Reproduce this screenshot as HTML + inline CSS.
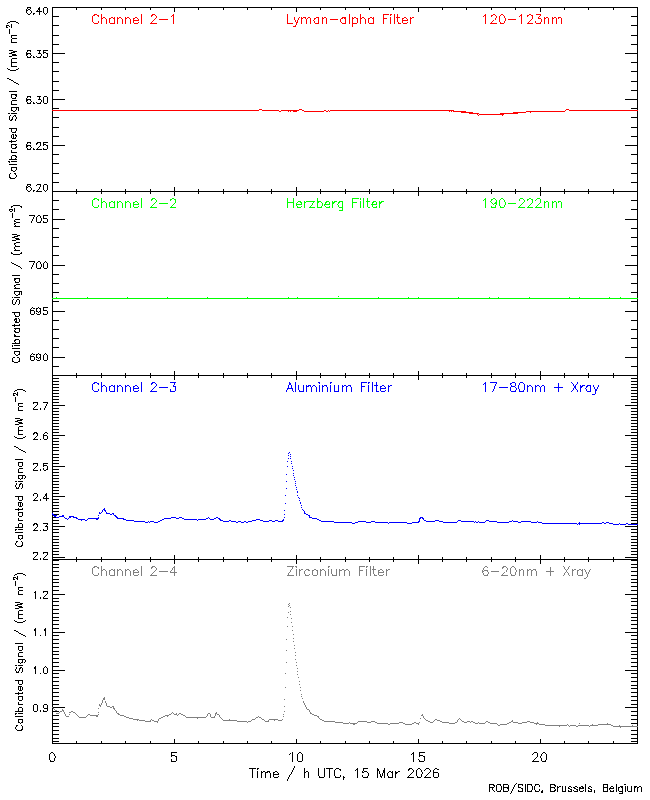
<!DOCTYPE html>
<html lang="en"><head><meta charset="utf-8"><title>LYRA calibrated signal - 15 Mar 2026</title><style>html,body{margin:0;padding:0;background:#fff;}body{width:650px;height:800px;overflow:hidden;font-family:"Liberation Sans",sans-serif;}svg{display:block;}</style></head><body>
<svg width="650" height="800" viewBox="0 0 650 800" role="img" shape-rendering="crispEdges"><title>LYRA calibrated signal, 15 Mar 2026</title><desc>LYRA calibrated signal, four stacked panels versus Time / h UTC, 15 Mar 2026 (0 to 24 h). Channel 2-1 Lyman-alpha Filter 120-123nm (6.20-6.40 mW m-2); Channel 2-2 Herzberg Filter 190-222nm (688-708 mW m-2); Channel 2-3 Aluminium Filter 17-80nm + Xray (2.2-2.8 mW m-2); Channel 2-4 Zirconium Filter 6-20nm + Xray (0.8-1.3 mW m-2). Y axis: Calibrated Signal / (mW m-2). ROB/SIDC, Brussels, Belgium</desc><rect width="650" height="800" fill="#fff"/><g transform="translate(0,0.5)" fill="none" stroke-width="1" stroke-linecap="butt"><path d="M27 7h4M44 7h3M53 7h23M77 7h24M102 7h23M126 7h24M151 7h23M175 7h23M199 7h24M224 7h23M248 7h23M272 7h24M297 7h23M321 7h24M346 7h23M370 7h23M394 7h24M419 7h23M443 7h23M467 7h24M492 7h23M516 7h24M541 7h23M565 7h23M589 7h24M614 7h23M27 8h1M30 8h1M38 8h1M28 9h2M38 9h1M27 10h1M30 10h1M37 10h1M31 11h1M36 11h3M40 11h2M31 12h1M27 13h1M30 13h1M33 13h2M44 13h1M46 13h1M28 14h2M33 14h1M45 14h1M53 16h6M631 16h6M10 21h6M8 22h2M16 22h2M7 23h1M18 23h1M7 25h2M53 25h6M631 25h6M9 26h1M7 27h1M12 35h5M53 35h6M631 35h6M12 38h5M12 42h5M53 44h6M631 44h6M9 50h4M27 50h4M37 50h2M40 50h1M44 50h4M13 51h4M27 51h1M30 51h1M11 52h4M44 52h2M9 53h3M27 53h4M38 53h1M40 53h1M46 53h1M53 53h12M625 53h12M12 54h4M27 54h1M30 54h1M41 54h1M12 55h5M31 55h1M41 55h1M9 56h3M27 56h1M30 56h1M33 56h1M36 56h1M40 56h1M43 56h1M27 57h4M33 57h2M37 57h4M43 57h4M12 58h5M12 62h5M53 62h6M631 62h6M12 66h5M7 68h1M18 68h1M8 69h2M16 69h2M10 70h6M53 71h6M631 71h6M7 78h2M9 79h2M11 80h2M13 81h1M53 81h6M631 81h6M14 82h2M16 83h2M18 84h1M53 90h6M631 90h6M9 91h8M12 94h4M15 95h1M27 96h4M37 96h2M40 96h1M44 96h3M15 97h1M27 97h1M30 97h1M12 98h4M27 99h4M38 99h1M40 99h1M53 99h12M625 99h12M12 100h5M27 100h1M30 100h1M41 100h1M31 101h1M41 101h1M27 102h1M30 102h1M33 102h1M36 102h1M40 102h1M27 103h4M33 103h2M37 103h4M44 103h3M12 104h5M12 107h4M17 107h1M53 108h6M631 108h6M12 110h1M15 110h1M13 111h2M8 113h2M11 113h6M10 115h1M14 115h2M13 116h1M15 116h1M16 117h1M53 117h6M631 117h6M16 118h1M11 119h1M15 119h1M10 120h2M15 120h1M53 127h6M631 127h6M9 128h2M12 128h4M15 131h1M12 132h4M12 134h1M15 134h1M15 135h2M16 136h1M53 136h6M631 136h6M15 137h1M12 138h1M14 138h2M16 140h1M9 141h2M12 141h4M27 142h4M37 142h3M44 142h4M27 143h1M30 143h1M36 143h2M12 144h5M36 144h1M44 144h2M15 145h1M27 145h4M46 145h1M53 145h12M625 145h12M16 146h1M27 146h1M30 146h1M39 146h1M15 147h2M31 147h1M38 147h1M12 148h4M27 148h1M30 148h1M33 148h1M37 148h1M43 148h1M27 149h4M33 149h2M36 149h6M43 149h4M12 152h5M53 154h6M631 154h6M12 155h4M15 156h2M16 157h1M15 158h1M9 159h2M12 159h5M8 161h2M11 161h6M9 162h1M53 163h6M631 163h6M9 164h8M12 167h4M12 170h1M15 170h1M13 171h2M10 173h1M14 173h2M53 173h6M631 173h6M15 174h1M16 175h1M16 176h1M10 177h1M15 177h1M10 178h5M53 182h6M631 182h6M27 184h4M37 184h3M44 184h3M27 185h1M30 185h1M36 185h1M28 186h2M27 187h1M30 187h1M39 187h1M31 188h1M39 188h1M31 189h1M38 189h1M27 190h1M30 190h1M33 190h2M37 190h1M44 190h1M46 190h1M28 191h2M33 191h1M36 191h6M45 191h1M53 191h23M77 191h24M102 191h23M126 191h24M151 191h23M175 191h23M199 191h24M224 191h23M248 191h23M272 191h24M297 191h23M321 191h24M346 191h23M370 191h23M394 191h24M419 191h23M443 191h23M467 191h24M492 191h23M516 191h24M541 191h23M565 191h23M589 191h24M614 191h23M53 200h6M631 200h6M13 205h7M11 206h2M20 206h2M11 207h1M21 207h1M9 209h4M53 209h6M631 209h6M9 210h1M12 210h1M10 211h2M29 215h6M38 215h2M44 215h4M34 216h1M37 216h1M40 216h1M33 217h1M40 217h1M33 218h1M44 218h3M15 219h5M32 219h1M53 219h12M625 219h12M14 220h1M32 220h1M14 221h2M31 221h1M40 221h1M43 221h1M16 222h4M31 222h1M37 222h4M43 222h4M14 223h2M14 224h1M15 225h1M14 226h6M53 228h6M631 228h6M12 234h5M17 235h3M14 236h4M12 237h3M53 237h6M631 237h6M15 238h4M16 239h4M12 240h4M16 242h4M14 243h2M14 244h1M15 245h1M15 246h5M53 246h6M631 246h6M14 247h1M14 248h1M15 249h1M14 250h6M11 252h1M21 252h1M11 253h2M20 253h2M13 254h7M53 255h6M631 255h6M29 261h6M38 261h2M45 261h1M11 262h1M34 262h1M37 262h1M40 262h1M44 262h1M46 262h1M12 263h2M33 263h1M40 263h1M14 264h2M33 264h1M16 265h2M32 265h1M53 265h12M625 265h12M18 266h2M32 266h1M20 267h1M31 267h1M40 267h1M21 268h1M31 268h1M37 268h4M44 268h3M53 274h6M631 274h6M12 275h8M15 278h4M15 279h1M15 281h1M15 282h4M53 283h6M631 283h6M16 284h4M14 285h2M14 286h1M15 287h1M14 288h6M15 291h4M20 291h1M53 292h6M631 292h6M15 294h1M18 294h1M16 295h2M12 297h1M14 297h6M13 299h1M17 299h2M16 300h1M16 301h1M53 301h6M631 301h6M15 302h1M15 303h1M13 304h2M18 304h1M32 307h1M38 307h1M44 307h4M31 308h1M33 308h2M37 308h1M39 308h1M31 310h3M44 310h3M37 311h1M39 311h1M53 311h12M625 311h12M12 312h2M15 312h4M38 312h1M36 313h1M43 313h1M31 314h3M37 314h3M43 314h4M15 315h1M15 316h4M15 318h1M18 318h1M14 319h2M14 320h1M53 320h6M631 320h6M15 321h1M15 322h1M17 322h2M19 324h1M12 325h2M15 325h5M14 328h5M15 329h1M53 329h6M631 329h6M14 330h1M14 331h2M15 332h4M15 335h1M15 336h5M53 338h6M631 338h6M15 339h4M14 340h2M14 341h1M15 342h1M12 343h7M12 345h1M14 345h6M12 346h1M53 347h6M631 347h6M12 348h8M15 351h4M32 353h1M38 353h1M45 353h1M15 354h1M18 354h1M31 354h1M33 354h2M37 354h1M39 354h1M44 354h1M46 354h1M16 355h2M31 356h3M13 357h2M17 357h2M37 357h1M39 357h1M53 357h12M625 357h12M38 358h1M36 359h1M31 360h3M37 360h3M44 360h3M13 361h1M18 361h1M14 362h4M53 366h6M631 366h6M53 375h23M77 375h24M102 375h23M126 375h24M151 375h23M175 375h23M199 375h24M224 375h23M248 375h23M272 375h24M297 375h23M321 375h24M346 375h23M370 375h23M394 375h24M419 375h23M443 375h23M467 375h24M492 375h23M516 375h24M541 375h23M565 375h23M589 375h24M614 375h23M53 378h6M631 378h6M53 381h6M631 381h6M53 384h6M631 384h6M53 387h6M631 387h6M17 389h6M15 390h2M23 390h2M53 390h6M631 390h6M14 391h1M25 391h1M14 393h2M53 393h6M631 393h6M16 394h1M14 395h1M53 396h6M631 396h6M53 399h6M631 399h6M33 402h4M43 402h5M53 402h6M631 402h6M19 403h4M33 403h1M47 403h1M46 404h1M36 405h1M46 405h1M53 405h12M625 405h12M19 406h4M35 406h1M45 406h1M34 407h1M45 407h1M33 408h1M40 408h1M44 408h1M53 408h6M631 408h6M33 409h5M40 409h1M44 409h1M19 410h4M53 411h6M631 411h6M53 414h6M631 414h6M53 417h6M631 417h6M15 418h5M20 419h3M17 420h5M53 420h6M631 420h6M15 421h3M18 422h4M19 423h4M53 423h6M631 423h6M15 424h4M19 426h4M53 426h6M631 426h6M53 429h6M631 429h6M19 430h4M34 432h3M45 432h2M53 432h6M631 432h6M33 433h2M36 433h1M44 433h1M47 433h1M19 434h4M33 434h1M44 435h3M53 435h12M625 435h12M14 436h1M25 436h1M36 436h1M15 437h2M23 437h2M35 437h1M17 438h6M34 438h1M53 438h6M631 438h6M33 439h5M40 439h1M44 439h3M53 441h6M631 441h6M53 444h6M631 444h6M14 446h2M16 447h2M53 447h6M631 447h6M18 448h1M19 449h2M21 450h2M53 450h6M631 450h6M23 451h2M25 452h1M53 454h6M631 454h6M53 457h6M631 457h6M15 459h8M53 460h6M631 460h6M19 462h3M33 463h4M44 463h4M53 463h6M631 463h6M33 464h1M44 465h3M19 466h3M36 466h1M53 466h12M625 466h12M35 467h1M19 468h4M34 468h1M43 468h1M33 469h1M40 469h1M43 469h1M46 469h1M53 469h6M631 469h6M33 470h5M40 470h1M44 470h2M19 472h4M53 472h6M631 472h6M19 475h3M23 475h2M53 475h6M631 475h6M25 476h1M25 477h1M19 478h1M21 478h1M24 478h1M53 478h6M631 478h6M20 479h1M15 481h2M18 481h5M53 481h6M631 481h6M16 483h1M20 483h2M16 484h1M20 484h1M53 484h6M631 484h6M15 485h1M15 486h1M16 487h1M18 487h1M53 487h6M631 487h6M16 488h3M21 488h1M53 490h6M631 490h6M34 493h3M53 493h6M631 493h6M33 494h1M45 494h1M33 495h1M45 495h1M15 496h3M19 496h3M44 496h1M53 496h12M625 496h12M36 497h1M43 497h1M35 498h1M43 498h3M47 498h2M34 499h1M40 499h1M53 499h6M631 499h6M19 500h3M33 500h5M40 500h1M19 502h1M21 502h1M53 502h6M631 502h6M53 505h6M631 505h6M19 506h1M21 506h1M22 508h1M53 508h6M631 508h6M15 509h3M19 509h4M53 511h6M631 511h6M19 512h3M54 514h5M631 514h6M19 516h3M53 517h3M631 517h6M19 520h4M53 520h6M631 520h6M19 523h3M34 523h3M43 523h5M53 523h6M631 523h6M33 524h2M36 524h1M47 524h1M33 525h1M46 525h1M45 526h2M53 526h12M625 526h12M15 527h3M19 527h3M36 527h1M35 528h1M15 529h2M18 529h5M34 529h1M43 529h1M53 529h6M631 529h6M15 530h1M33 530h5M40 530h1M43 530h4M15 532h8M53 532h6M631 532h6M19 535h3M53 536h6M631 536h6M19 538h1M21 538h1M20 539h1M53 539h6M631 539h6M16 541h2M21 541h1M16 542h1M53 542h6M631 542h6M15 543h1M15 544h1M16 545h1M21 545h1M53 545h6M631 545h6M17 546h5M53 548h6M631 548h6M53 551h6M631 551h6M33 552h4M43 552h4M33 553h1M43 553h1M53 554h6M631 554h6M36 555h1M46 555h1M35 556h1M45 556h1M34 557h1M44 557h1M53 557h12M625 557h12M33 558h1M40 558h1M43 558h1M33 559h5M40 559h1M43 559h5M53 559h23M77 559h24M102 559h23M126 559h24M151 559h23M175 559h23M199 559h24M224 559h23M248 559h23M272 559h24M297 559h23M321 559h24M346 559h23M370 559h23M394 559h24M419 559h23M443 559h23M467 559h24M492 559h23M516 559h24M541 559h23M565 559h23M589 559h24M614 559h23M53 560h6M631 560h6M53 564h6M631 564h6M53 567h6M631 567h6M53 571h6M631 571h6M17 573h6M15 574h2M23 574h2M14 575h1M25 575h1M53 575h6M631 575h6M14 577h2M16 578h1M14 579h1M53 579h6M631 579h6M53 582h6M631 582h6M53 586h6M631 586h6M19 587h4M19 590h4M53 590h6M631 590h6M43 591h4M34 592h1M43 592h1M19 594h4M46 594h1M53 594h12M625 594h12M45 595h1M44 596h1M40 597h1M43 597h1M40 598h1M43 598h5M53 598h6M631 598h6M53 601h6M631 601h6M15 602h5M20 603h3M17 604h5M15 605h3M53 605h6M631 605h6M18 606h4M19 607h4M15 608h4M53 609h6M631 609h6M19 610h4M53 613h6M631 613h6M19 614h4M53 617h6M631 617h6M19 618h4M14 620h1M25 620h1M53 620h6M631 620h6M15 621h2M23 621h2M17 622h6M53 624h6M631 624h6M53 628h6M631 628h6M34 629h1M44 629h1M14 630h2M34 630h1M44 630h1M16 631h2M18 632h1M53 632h12M625 632h12M19 633h2M21 634h2M23 635h2M40 635h1M53 635h6M631 635h6M25 636h1M53 639h6M631 639h6M15 643h8M53 643h6M631 643h6M19 646h3M53 647h6M631 647h6M19 650h3M53 651h6M631 651h6M19 652h4M53 654h6M631 654h6M19 656h4M53 658h6M631 658h6M19 659h3M23 659h2M25 660h1M25 661h1M19 662h1M21 662h1M24 662h1M53 662h6M631 662h6M20 663h1M15 665h2M18 665h5M45 666h1M53 666h6M631 666h6M16 667h1M20 667h2M34 667h1M44 667h1M46 667h1M16 668h1M20 668h1M34 668h1M15 669h1M15 670h1M53 670h12M625 670h12M16 671h1M18 671h1M16 672h3M21 672h1M40 673h1M44 673h3M53 673h6M631 673h6M53 677h6M631 677h6M15 680h3M19 680h3M53 681h6M631 681h6M19 684h3M53 685h6M631 685h6M19 686h1M21 686h1M53 688h6M631 688h6M19 690h1M21 690h1M22 692h1M53 692h6M631 692h6M15 693h3M19 693h4M19 696h3M53 696h6M631 696h6M19 700h3M53 700h6M631 700h6M19 704h4M34 704h3M44 704h3M53 704h6M631 704h6M19 707h3M53 707h12M625 707h12M44 708h3M40 710h1M43 710h1M15 711h3M19 711h3M34 711h3M40 711h1M43 711h4M53 711h6M631 711h6M15 713h2M18 713h5M15 714h1M53 715h6M631 715h6M15 716h8M19 719h3M53 719h6M631 719h6M19 722h1M21 722h1M20 723h1M53 723h6M631 723h6M16 725h2M21 725h1M16 726h1M53 726h6M15 727h1M15 728h1M16 729h1M21 729h1M17 730h5M53 730h6M631 730h6M53 734h6M631 734h6M53 738h6M631 738h6M53 741h6M631 741h6M53 743h23M77 743h24M102 743h23M126 743h24M151 743h23M175 743h23M199 743h24M224 743h23M248 743h23M272 743h24M297 743h23M321 743h24M346 743h23M370 743h23M394 743h24M419 743h23M443 743h23M467 743h24M492 743h23M516 743h24M541 743h23M565 743h23M589 743h24M614 743h23M51 752h2M172 752h5M299 752h2M420 752h5M534 752h3M543 752h2M50 753h1M53 753h1M290 753h1M298 753h1M301 753h1M412 753h1M533 753h1M542 753h1M545 753h1M54 754h1M289 754h1M411 754h1M532 754h1M541 754h1M54 755h1M172 755h3M420 755h3M541 755h1M55 756h1M175 756h1M423 756h1M540 756h1M55 757h1M536 757h1M540 757h1M535 758h1M418 759h1M534 759h1M50 760h1M419 760h1M533 760h1M545 760h1M50 761h4M172 761h4M298 761h4M419 761h5M532 761h7M542 761h4M294 766h1M294 767h1M249 768h3M253 768h3M257 768h2M293 768h1M326 768h3M330 768h3M336 768h3M364 768h4M409 768h3M418 768h2M426 768h3M435 768h2M257 769h1M293 769h1M335 769h1M339 769h2M356 769h1M378 769h1M408 769h2M412 769h1M417 769h1M420 769h1M425 769h1M429 769h1M434 769h1M437 769h2M292 770h1M340 770h1M355 770h1M378 770h1M408 770h1M413 770h1M421 770h1M424 770h1M430 770h1M263 771h2M267 771h3M275 771h2M292 771h1M306 771h2M362 771h1M364 771h3M389 771h2M398 771h2M413 771h1M421 771h1M430 771h1M262 772h1M266 772h2M269 772h1M274 772h1M277 772h1M291 772h1M305 772h1M362 772h2M367 772h1M388 772h1M391 772h1M396 772h2M412 772h1M422 772h1M429 772h1M434 772h4M278 773h1M291 773h1M396 773h1M411 773h1M422 773h1M428 773h1M274 774h5M290 774h1M410 774h1M427 774h1M289 775h1M340 775h1M362 775h1M409 775h1M426 775h1M278 776h1M289 776h1M319 776h1M335 776h1M340 776h1M362 776h1M367 776h1M381 776h1M388 776h1M408 776h1M417 776h1M425 776h1M274 777h4M288 777h1M319 777h5M335 777h5M344 777h1M363 777h5M381 777h1M388 777h4M407 777h7M417 777h4M424 777h7M434 777h4M288 778h1M287 779h1M287 780h1M516 783h1M490 784h4M497 784h4M504 784h4M515 784h1M519 784h4M528 784h4M535 784h4M551 784h4M604 784h3M624 784h2M493 785h2M500 785h1M514 785h1M522 785h1M531 785h1M535 785h1M539 785h1M554 785h2M494 786h1M514 786h1M539 786h1M555 786h1M559 786h2M569 786h2M575 786h2M581 786h1M589 786h2M611 786h2M620 786h2M635 786h2M639 786h2M490 787h2M493 787h1M504 787h4M513 787h1M519 787h2M551 787h4M558 787h1M568 787h1M571 787h1M573 787h2M577 787h1M580 787h1M583 787h1M588 787h1M591 787h1M604 787h3M610 787h1M613 787h1M619 787h1M621 787h1M635 787h1M638 787h1M507 788h1M513 788h1M521 788h1M554 788h1M568 788h2M574 788h2M580 788h2M583 788h1M588 788h2M609 788h5M512 789h1M539 789h1M555 789h1M570 789h1M576 789h1M590 789h1M609 789h1M493 790h1M500 790h1M512 790h1M518 790h1M531 790h1M535 790h1M539 790h1M554 790h2M568 790h1M573 790h1M583 790h1M588 790h1M610 790h1M613 790h1M494 791h1M497 791h4M504 791h4M511 791h1M518 791h4M528 791h4M535 791h4M541 791h1M551 791h4M563 791h2M568 791h3M574 791h3M580 791h3M588 791h3M604 791h3M610 791h4M619 791h3M628 791h3M511 792h1M541 792h1M510 793h1M619 793h3" stroke="#000000"/>
<path d="M94 14h3M152 14h3M384 14h5M390 14h2M493 14h2M501 14h2M529 14h2M536 14h5M93 15h2M97 15h2M151 15h2M155 15h1M172 15h1M390 15h1M484 15h1M491 15h2M495 15h1M500 15h1M503 15h1M520 15h1M527 15h2M531 15h1M540 15h1M98 16h1M151 16h1M156 16h1M171 16h1M483 16h1M491 16h1M496 16h1M504 16h1M519 16h1M527 16h1M539 16h1M103 17h2M111 17h2M119 17h2M127 17h2M135 17h2M156 17h1M299 17h1M303 17h3M308 17h2M316 17h2M324 17h2M342 17h3M354 17h2M362 17h2M370 17h2M396 17h1M398 17h2M404 17h2M412 17h2M496 17h1M504 17h1M538 17h1M546 17h2M554 17h2M558 17h3M102 18h1M105 18h1M110 18h1M113 18h1M118 18h1M121 18h1M126 18h1M129 18h1M134 18h1M137 18h1M155 18h1M298 18h1M302 18h1M305 18h1M307 18h1M314 18h2M323 18h1M341 18h2M344 18h1M353 18h1M356 18h1M361 18h1M364 18h1M369 18h1M372 18h1M384 18h3M403 18h1M406 18h1M411 18h1M495 18h1M538 18h3M545 18h1M553 18h1M558 18h1M138 19h1M154 19h1M159 19h9M298 19h1M314 19h1M330 19h8M407 19h1M495 19h1M508 19h8M531 19h1M134 20h5M153 20h1M295 20h1M313 20h1M403 20h5M493 20h1M530 20h1M98 21h1M152 21h1M295 21h1M314 21h1M492 21h1M504 21h1M529 21h1M535 21h1M93 22h1M98 22h1M138 22h1M151 22h1M314 22h1M341 22h1M398 22h1M407 22h1M491 22h1M500 22h1M504 22h1M528 22h1M535 22h1M540 22h1M94 23h4M110 23h4M134 23h4M150 23h7M288 23h5M315 23h3M342 23h3M353 23h4M369 23h4M398 23h3M403 23h4M490 23h7M500 23h4M527 23h6M536 23h5M295 25h1M293 26h3M259 109h3M299 109h3M566 109h3M52 110h207M262 110h17M281 110h18M302 110h2M324 110h2M328 110h1M330 110h124M565 110h1M569 110h69M279 111h2M288 111h1M290 111h1M293 111h4M304 111h20M326 111h2M329 111h1M449 111h1M451 111h1M453 111h13M526 111h39M461 112h12M513 112h13M530 112h1M469 113h10M500 113h2M503 113h15M477 114h1M479 114h23M503 114h1M478 115h1" stroke="#ff0000"/>
<path d="M94 198h3M152 198h3M172 198h2M353 198h6M360 198h1M493 198h2M501 198h2M520 198h3M529 198h2M537 198h3M93 199h2M97 199h2M151 199h2M155 199h1M170 199h2M174 199h1M360 199h1M484 199h1M491 199h2M495 199h1M500 199h1M503 199h1M519 199h1M523 199h1M527 199h2M531 199h1M536 199h1M98 200h1M151 200h1M156 200h1M170 200h1M483 200h1M491 200h1M504 200h1M519 200h1M524 200h1M527 200h1M535 200h1M103 201h2M111 201h2M119 201h2M127 201h2M135 201h2M156 201h1M298 201h3M306 201h9M318 201h3M326 201h3M334 201h3M339 201h3M366 201h1M368 201h2M373 201h3M381 201h3M490 201h1M504 201h1M524 201h1M546 201h2M554 201h2M558 201h3M102 202h1M105 202h1M110 202h1M113 202h1M118 202h1M121 202h1M126 202h1M129 202h1M134 202h1M137 202h1M155 202h1M288 202h5M297 202h1M300 202h1M305 202h1M313 202h1M318 202h1M321 202h1M326 202h1M333 202h2M338 202h2M353 202h4M373 202h1M380 202h2M491 202h1M495 202h1M523 202h1M545 202h1M553 202h1M558 202h1M138 203h1M154 203h1M159 203h9M174 203h1M312 203h1M333 203h1M338 203h1M380 203h1M492 203h1M494 203h2M508 203h8M522 203h1M531 203h1M539 203h1M134 204h5M153 204h1M173 204h1M297 204h4M312 204h1M324 204h1M326 204h3M337 204h1M371 204h1M373 204h3M493 204h1M521 204h1M530 204h1M538 204h1M98 205h1M152 205h1M172 205h1M311 205h1M324 205h1M338 205h1M504 205h1M520 205h1M529 205h1M537 205h1M93 206h1M98 206h1M138 206h1M151 206h1M171 206h1M297 206h1M301 206h1M310 206h1M321 206h1M325 206h1M329 206h1M338 206h1M376 206h1M491 206h1M500 206h1M504 206h1M519 206h1M528 206h1M536 206h1M94 207h4M110 207h4M134 207h4M150 207h7M170 207h6M297 207h4M309 207h6M318 207h4M326 207h4M339 207h3M368 207h2M373 207h4M491 207h4M500 207h4M518 207h7M527 207h6M535 207h7M339 210h3M338 296h1M56 297h1M87 297h1M127 297h1M167 297h1M207 297h1M247 297h1M288 297h1M297 297h1M378 297h1M408 297h1M418 297h1M458 297h1M489 297h1M498 297h1M529 297h1M569 297h1M579 297h1M609 297h1M620 297h1M52 298h586" stroke="#00ff00"/>
<path d="M94 382h3M152 382h3M170 382h4M175 382h1M318 382h2M330 382h2M362 382h5M368 382h2M490 382h7M512 382h3M520 382h3M571 382h1M577 382h1M93 383h2M97 383h2M151 383h2M155 383h1M290 383h1M319 383h1M330 383h1M368 383h1M484 383h1M496 383h1M510 383h2M519 383h1M523 383h1M572 383h1M577 383h1M98 384h1M151 384h1M156 384h1M290 384h1M483 384h1M495 384h1M510 384h1M519 384h1M573 384h1M576 384h1M103 385h2M111 385h2M119 385h2M127 385h2M135 385h2M156 385h1M173 385h1M308 385h3M313 385h2M324 385h3M344 385h2M348 385h3M374 385h2M377 385h1M382 385h2M390 385h2M495 385h1M511 385h1M529 385h2M537 385h2M542 385h2M573 385h1M582 385h3M587 385h3M593 385h1M598 385h1M102 386h1M105 386h1M110 386h1M113 386h1M118 386h1M121 386h1M126 386h1M129 386h1M134 386h1M137 386h1M155 386h1M173 386h2M307 386h2M310 386h1M312 386h1M315 386h1M323 386h1M326 386h1M343 386h1M347 386h1M350 386h1M362 386h3M381 386h1M384 386h1M389 386h1M511 386h4M528 386h1M531 386h1M536 386h1M539 386h1M541 386h1M574 386h1M581 386h2M586 386h2M593 386h1M598 386h1M138 387h1M154 387h1M159 387h9M385 387h1M499 387h9M515 387h1M554 387h4M559 387h4M574 387h1M581 387h1M586 387h1M594 387h1M597 387h1M134 388h5M153 388h1M287 388h1M289 388h2M381 388h5M516 388h1M573 388h1M585 388h1M594 388h1M597 388h1M98 389h1M152 389h1M287 389h1M493 389h1M516 389h1M573 389h1M576 389h1M586 389h1M596 389h1M93 390h1M98 390h1M138 390h1M151 390h1M286 390h1M299 390h1M385 390h1M493 390h1M515 390h1M523 390h1M572 390h1M577 390h1M586 390h1M596 390h1M94 391h4M110 391h4M134 391h4M150 391h7M171 391h4M286 391h1M293 391h1M299 391h4M335 391h3M377 391h2M381 391h4M492 391h1M511 391h5M520 391h4M571 391h1M577 391h1M587 391h3M592 394h3M289 452h1M288 453h1M290 454h1M288 455h1M290 456h1M288 458h1M290 458h1M287 461h1M291 461h1M291 463h1M287 466h1M292 466h1M292 468h1M293 470h1M293 473h1M286 474h1M293 475h1M294 477h1M294 479h1M286 481h1M295 481h1M295 483h1M295 485h1M296 487h1M286 488h1M296 489h1M297 491h1M297 492h1M285 495h1M297 495h1M298 497h1M299 498h1M299 500h1M300 502h1M285 503h1M300 503h1M301 505h1M301 507h1M103 509h1M302 509h1M102 510h1M105 510h1M284 510h1M303 510h1M102 511h1M105 511h1M99 512h1M101 512h1M106 512h1M52 513h1M99 513h2M106 513h4M112 513h2M305 513h1M52 514h2M110 514h2M113 514h1M284 514h1M306 514h2M53 515h4M62 515h2M98 515h1M114 515h2M308 515h1M54 516h2M59 516h5M69 516h5M115 516h2M56 517h3M64 517h1M69 517h2M73 517h4M98 517h1M116 517h2M171 517h5M179 517h3M208 517h1M216 517h2M284 517h1M310 517h2M420 517h3M65 518h2M68 518h1M76 518h2M88 518h11M117 518h7M164 518h7M176 518h3M182 518h2M206 518h2M209 518h1M214 518h2M218 518h2M312 518h5M420 518h1M422 518h2M67 519h1M78 519h7M87 519h1M96 519h2M123 519h3M162 519h2M184 519h13M198 519h8M210 519h4M219 519h2M256 519h4M283 519h1M317 519h2M423 519h1M81 520h1M85 520h2M126 520h8M160 520h2M197 520h1M220 520h3M229 520h2M252 520h4M260 520h3M269 520h3M275 520h3M282 520h2M319 520h2M424 520h2M435 520h4M458 520h3M486 520h3M512 520h1M134 521h11M148 521h1M150 521h4M158 521h2M223 521h6M231 521h5M238 521h3M244 521h2M248 521h4M263 521h6M272 521h3M278 521h5M321 521h13M358 521h8M371 521h4M418 521h1M426 521h9M439 521h4M457 521h1M461 521h13M475 521h1M478 521h1M485 521h1M489 521h8M509 521h3M513 521h5M521 521h10M537 521h1M145 522h3M149 522h1M154 522h4M236 522h2M241 522h3M246 522h2M334 522h18M355 522h3M366 522h5M375 522h13M389 522h18M412 522h7M443 522h14M474 522h1M476 522h2M479 522h6M497 522h12M518 522h3M531 522h6M538 522h4M602 522h2M606 522h3M352 523h3M388 523h1M407 523h5M542 523h35M578 523h1M580 523h22M604 523h2M609 523h4M619 523h1M626 523h2M577 524h1M613 524h6M620 524h6M628 524h10" stroke="#0000ff"/>
<path d="M94 566h3M152 566h3M287 566h5M293 566h1M295 566h2M328 566h2M360 566h5M366 566h2M485 566h2M503 566h3M512 566h2M563 566h1M569 566h1M93 567h2M97 567h2M151 567h2M155 567h1M173 567h1M296 567h1M328 567h1M366 567h1M484 567h1M487 567h1M502 567h2M506 567h1M511 567h1M514 567h1M564 567h1M568 567h1M98 568h1M151 568h1M156 568h1M172 568h1M483 568h1M502 568h1M507 568h1M515 568h1M564 568h1M568 568h1M103 569h2M111 569h2M119 569h2M127 569h2M135 569h2M156 569h1M172 569h1M291 569h1M301 569h2M306 569h3M314 569h2M322 569h2M342 569h2M346 569h2M372 569h1M374 569h2M380 569h2M388 569h2M483 569h1M507 569h1M515 569h1M521 569h2M529 569h2M533 569h3M565 569h1M567 569h1M574 569h2M579 569h2M584 569h1M590 569h1M102 570h1M105 570h1M110 570h1M113 570h1M118 570h1M121 570h1M126 570h1M129 570h1M134 570h1M137 570h1M155 570h1M171 570h1M290 570h1M300 570h1M305 570h1M308 570h2M313 570h1M316 570h1M321 570h1M324 570h1M340 570h2M345 570h1M348 570h1M360 570h3M379 570h1M382 570h1M387 570h1M484 570h4M506 570h1M516 570h1M520 570h1M528 570h1M532 570h1M535 570h1M566 570h1M573 570h1M578 570h1M581 570h1M585 570h1M589 570h1M138 571h1M154 571h1M159 571h9M170 571h1M290 571h1M383 571h1M483 571h1M487 571h1M491 571h8M506 571h1M516 571h1M546 571h4M551 571h3M566 571h1M585 571h1M589 571h1M134 572h5M153 572h1M170 572h4M175 572h2M289 572h1M379 572h5M488 572h1M504 572h1M565 572h1M567 572h1M586 572h1M588 572h1M98 573h1M152 573h1M483 573h1M488 573h1M503 573h1M564 573h1M568 573h1M586 573h1M588 573h1M93 574h1M98 574h1M138 574h1M151 574h1M305 574h1M309 574h1M332 574h1M374 574h1M383 574h1M483 574h1M487 574h1M502 574h1M511 574h1M564 574h1M568 574h1M94 575h4M110 575h4M134 575h4M150 575h7M287 575h1M289 575h5M305 575h4M313 575h4M332 575h4M374 575h3M379 575h4M484 575h4M501 575h7M511 575h4M563 575h1M569 575h1M578 575h4M586 577h1M584 578h2M289 603h1M288 604h1M289 605h1M288 606h1M290 607h1M290 611h1M288 612h1M290 614h1M287 617h1M291 618h1M291 622h1M287 626h1M292 626h1M292 630h1M293 634h1M293 638h1M286 639h1M293 641h1M294 645h1M294 648h1M286 650h1M295 652h1M295 655h1M295 659h1M286 662h1M296 662h1M296 665h1M297 668h1M297 671h1M285 673h1M297 674h1M298 677h1M299 681h1M299 684h1M285 687h1M300 687h1M300 690h1M301 694h1M301 696h1M103 698h1M302 698h1M103 699h1M284 699h1M105 701h1M303 701h1M105 702h1M303 702h1M101 703h1M304 703h1M99 704h1M101 704h1M304 704h1M99 705h2M305 705h1M100 706h1M107 706h3M112 706h1M284 706h1M305 706h1M52 707h1M110 707h2M306 707h1M53 708h1M98 708h1M114 708h1M306 708h1M54 709h1M62 709h1M114 709h1M307 709h2M55 710h2M62 710h2M115 710h1M309 710h1M60 711h2M63 711h1M71 711h2M116 711h1M284 711h1M309 711h1M59 712h1M64 712h1M69 712h2M73 712h2M98 712h1M116 712h1M172 712h1M216 712h1M310 712h1M56 713h3M64 713h1M75 713h1M117 713h2M171 713h1M173 713h1M176 713h1M179 713h2M208 713h2M216 713h1M310 713h2M65 714h1M69 714h1M76 714h1M88 714h2M98 714h1M118 714h2M169 714h2M174 714h3M178 714h1M181 714h2M207 714h1M217 714h2M283 714h1M312 714h2M422 714h1M65 715h1M77 715h1M87 715h1M90 715h8M120 715h4M165 715h4M177 715h1M183 715h2M207 715h1M219 715h1M314 715h3M421 715h2M66 716h3M78 716h1M86 716h1M96 716h2M124 716h2M163 716h2M167 716h1M185 716h1M206 716h1M214 716h1M219 716h1M258 716h1M283 716h1M317 716h2M423 716h1M79 717h7M126 717h3M161 717h2M186 717h20M211 717h4M220 717h1M256 717h2M259 717h2M318 717h1M423 717h1M129 718h4M159 718h2M197 718h1M221 718h1M255 718h1M261 718h1M319 718h1M420 718h1M424 718h1M459 718h1M133 719h6M151 719h1M158 719h1M222 719h1M229 719h1M252 719h3M262 719h2M269 719h9M282 719h1M320 719h2M425 719h1M435 719h2M458 719h1M460 719h1M137 720h1M139 720h6M150 720h1M152 720h2M158 720h1M223 720h14M251 720h1M264 720h1M268 720h1M274 720h1M278 720h4M322 720h2M426 720h2M434 720h1M437 720h3M457 720h1M461 720h1M512 720h1M145 721h6M154 721h4M237 721h10M248 721h3M265 721h4M324 721h11M358 721h9M371 721h4M428 721h2M433 721h1M440 721h2M457 721h1M462 721h2M467 721h3M471 721h2M486 721h2M511 721h2M527 721h3M157 722h1M247 722h1M335 722h8M349 722h1M357 722h1M367 722h4M375 722h2M399 722h4M414 722h2M419 722h1M430 722h3M442 722h7M455 722h2M464 722h3M470 722h1M473 722h2M478 722h1M485 722h1M488 722h2M509 722h2M513 722h5M522 722h5M530 722h4M537 722h1M343 723h6M350 723h7M377 723h11M390 723h9M403 723h2M412 723h2M416 723h3M449 723h6M475 723h3M479 723h6M490 723h7M507 723h2M518 723h4M534 723h5M579 723h1M607 723h1M353 724h2M388 724h2M405 724h7M418 724h1M497 724h1M500 724h7M536 724h1M539 724h6M567 724h1M592 724h1M598 724h13M498 725h2M545 725h22M568 725h1M570 725h6M578 725h11M590 725h8M611 725h2M619 725h1M632 725h1M559 726h1M569 726h1M576 726h2M589 726h1M613 726h25M620 727h1" stroke="#7f7f7f"/></g><g transform="translate(0.5,0)" fill="none" stroke-width="1" stroke-linecap="butt"><path d="M6 25v3M9 29v5M9 116v4M9 174v4M11 24v4M11 35v3M11 39v4M11 59v8M11 94v4M11 101v4M11 107v4M11 128v4M11 135v3M11 140v3M11 144v4M11 150v3M11 156v4M11 167v4M12 117v3M12 213v5M12 300v4M12 358v4M13 134v5M13 393v3M13 577v3M14 208v4M14 278v3M14 291v3M14 312v3M14 324v3M14 334v3M14 351v3M15 397v5M15 581v5M16 94v3M16 107v3M16 128v3M16 167v3M16 318v5M17 392v4M17 576v4M18 107v4M18 403v3M18 407v4M18 427v8M18 462v4M18 469v4M18 475v4M18 496v4M18 502v4M18 508v3M18 512v4M18 518v3M18 524v4M18 535v4M18 587v3M18 591v4M18 611v8M18 646v4M18 653v4M18 659v4M18 680v4M18 686v4M18 692v3M18 696v4M18 702v3M18 708v4M18 719v4M19 278v4M19 291v4M19 300v4M19 312v4M19 319v3M19 328v4M19 340v4M19 351v4M19 358v4M19 484v3M19 668v3M20 502v5M20 686v5M21 291v4M22 462v4M22 475v4M22 484v4M22 496v4M22 503v3M22 512v4M22 524v4M22 535v4M22 542v4M22 646v4M22 659v4M22 668v4M22 680v4M22 687v3M22 696v4M22 708v4M22 719v4M22 726v4M26 9v4M26 52v4M26 98v4M26 144v4M26 186v4M30 309v5M30 355v5M33 705v6M34 311v3M34 357v3M35 591v8M35 628v8M35 666v8M36 217v5M36 263v5M36 308v4M36 354v4M37 402v3M37 433v3M37 463v3M37 494v3M37 524v3M37 552v3M37 705v6M39 7v8M39 50v4M39 96v4M40 142v4M40 184v3M40 308v6M40 354v6M41 218v3M41 264v3M43 8v5M43 50v4M43 97v6M43 142v4M43 185v5M43 215v4M43 263v5M43 307v4M43 355v5M43 434v5M43 463v4M43 668v5M43 705v3M45 628v8M46 493v8M47 8v5M47 53v4M47 97v6M47 145v4M47 185v5M47 219v3M47 263v5M47 311v3M47 355v5M47 436v3M47 466v4M47 526v4M47 552v3M47 591v3M47 668v5M47 705v6M49 754v6M52 7v103M52 111v187M52 299v214M52 515v192M52 708v36M54 758v3M76 7v3M76 189v5M76 373v5M76 557v5M76 741v3M101 7v3M101 189v5M101 373v5M101 557v5M101 741v3M125 7v3M125 189v5M125 373v5M125 557v5M125 741v3M150 7v3M150 189v5M150 373v5M150 557v5M150 741v3M171 752v5M171 759v3M174 7v5M174 187v9M174 371v9M174 555v9M174 739v5M176 756v5M198 7v3M198 189v5M198 373v5M198 557v5M198 741v3M223 7v3M223 189v5M223 373v5M223 557v5M223 741v3M247 7v3M247 189v5M247 373v5M247 557v5M247 741v3M252 768v10M257 771v7M261 771v7M265 772v6M270 773v5M271 7v3M271 189v5M271 373v5M271 557v5M271 741v3M273 772v5M292 752v10M296 7v5M296 187v9M296 371v9M296 555v9M296 739v5M297 754v7M302 754v7M304 768v10M308 772v6M318 768v8M320 7v3M320 189v5M320 373v5M320 557v5M320 741v3M324 768v9M329 768v10M334 770v6M343 776v4M345 7v3M345 189v5M345 373v5M345 557v5M345 741v3M357 768v10M363 768v3M368 773v3M369 7v3M369 189v5M369 373v5M369 557v5M369 741v3M377 768v10M379 771v3M380 774v3M382 773v3M383 770v3M384 768v10M387 773v3M392 771v7M393 7v3M393 189v5M393 373v5M393 557v5M393 741v3M395 771v7M413 752v10M416 770v6M418 7v5M418 187v9M418 371v9M418 555v9M418 739v5M419 752v5M421 774v3M424 756v5M433 770v7M438 773v4M442 7v3M442 189v5M442 373v5M442 557v5M442 741v3M466 7v3M466 189v5M466 373v5M466 557v5M466 741v3M489 784v8M491 7v3M491 189v5M491 373v5M491 557v5M491 741v3M492 787v3M496 785v6M501 786v4M503 784v8M508 785v6M515 7v3M515 189v5M515 373v5M515 557v5M515 741v3M518 784v4M522 788v4M525 784v8M527 784v8M532 786v4M534 786v4M537 753v4M540 7v5M540 187v9M540 371v9M540 555v9M540 739v5M541 758v3M542 790v3M546 754v6M550 784v8M557 786v6M562 786v6M564 7v3M564 189v5M564 373v5M564 557v5M564 741v3M565 786v6M571 789v3M577 789v3M579 787v4M582 786v3M585 784v8M588 7v3M588 189v5M588 373v5M588 557v5M588 741v3M591 789v3M594 790v3M603 784v8M607 784v8M613 7v3M613 189v5M613 373v5M613 557v5M613 741v3M616 784v8M618 787v4M622 786v8M625 786v6M627 786v5M631 786v6M634 786v6M637 7v103M637 111v187M637 299v225M637 525v201M637 727v17M637 787v5M641 787v5" stroke="#000000"/>
<path d="M92 16v6M101 14v10M106 19v5M109 18v5M114 17v7M117 17v7M122 19v5M125 17v7M130 19v5M133 18v5M141 14v10M173 14v10M287 14v10M294 17v3M296 22v3M297 20v3M301 17v7M306 19v5M310 18v6M318 17v7M322 17v7M326 18v6M340 19v3M345 17v7M349 14v10M352 17v10M357 18v5M360 14v10M365 19v5M368 18v5M373 17v7M383 14v10M390 17v7M394 14v10M397 14v8M402 18v5M410 17v7M485 14v10M499 16v6M502 113v3M505 18v3M521 14v10M532 15v4M541 19v3M544 17v7M548 18v6M552 17v7M556 18v6M561 18v6" stroke="#ff0000"/>
<path d="M92 200v6M101 198v10M106 203v5M109 202v5M114 201v7M117 201v7M122 203v5M125 201v7M130 203v5M133 202v5M141 198v10M175 199v4M287 198v10M293 198v10M296 203v3M301 202v3M304 201v7M317 198v10M322 203v3M325 202v3M329 202v3M332 201v7M342 201v10M352 198v10M360 201v7M363 198v10M367 198v9M372 202v5M376 202v3M379 201v7M485 198v10M495 205v3M496 200v5M499 200v6M505 202v3M532 199v4M540 199v4M544 201v7M548 202v6M552 201v7M556 202v6M561 202v6" stroke="#00ff00"/>
<path d="M92 384v6M101 382v10M104 508v3M106 387v5M109 386v5M114 385v7M117 385v7M122 387v5M125 385v7M130 387v5M133 386v5M141 382v10M170 389v3M174 382v3M175 386v5M288 385v4M289 382v3M291 385v4M292 388v3M295 382v10M298 385v5M303 385v7M304 511v3M306 385v7M309 515v3M311 387v5M316 387v5M319 385v7M322 385v7M327 387v5M330 385v7M334 385v7M338 385v7M342 385v7M346 386v6M351 387v5M361 382v10M368 385v7M372 382v10M376 382v10M380 386v5M388 385v7M419 518v4M485 382v10M494 386v3M510 387v4M515 383v3M518 385v4M519 389v3M524 384v6M527 385v7M532 387v5M535 385v7M540 387v5M544 386v6M558 383v9M575 385v4M579 522v3M580 385v7M590 385v7M595 389v5" stroke="#0000ff"/>
<path d="M92 568v6M101 566v10M102 700v3M104 697v3M106 571v5M106 703v3M109 570v5M113 706v3M114 569v7M117 569v7M122 571v5M125 569v7M130 571v5M133 570v5M141 566v10M174 566v10M210 714v3M215 713v3M288 573v3M292 566v3M296 569v7M299 569v7M304 571v3M312 570v5M317 570v5M320 569v7M325 571v5M328 569v7M331 569v5M336 569v7M339 569v7M344 570v6M349 571v5M359 566v10M366 569v7M370 566v10M373 566v8M378 570v5M386 569v7M482 570v3M510 568v6M515 572v3M519 569v7M523 570v6M527 569v7M531 570v6M536 571v5M550 567v9M572 569v7M577 570v5M582 569v7M587 574v3" stroke="#7f7f7f"/></g></svg>
</body></html>
